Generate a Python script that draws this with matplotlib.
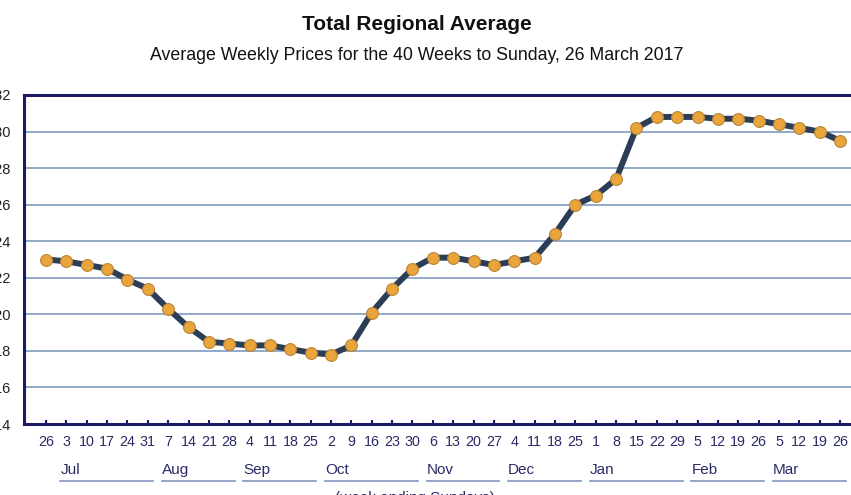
import matplotlib
matplotlib.use("Agg")
import matplotlib.pyplot as plt
from matplotlib.transforms import blended_transform_factory
from matplotlib.lines import Line2D

plt.rcParams['font.family'] = ['Liberation Sans', 'DejaVu Sans']

# week ending Sundays, 26 Jun 2016 to 26 Mar 2017
week_days = [26, 3, 10, 17, 24, 31, 7, 14, 21, 28, 4, 11, 18, 25, 2, 9, 16, 23, 30,
             6, 13, 20, 27, 4, 11, 18, 25, 1, 8, 15, 22, 29, 5, 12, 19, 26, 5, 12, 19, 26]
prices = [123.0, 122.9, 122.7, 122.5, 121.9, 121.4, 120.3, 119.3, 118.5, 118.4,
          118.3, 118.3, 118.1, 117.9, 117.8, 118.3, 120.1, 121.4, 122.5, 123.1,
          123.1, 122.9, 122.7, 122.9, 123.1, 124.4, 126.0, 126.5, 127.4, 130.2,
          130.8, 130.8, 130.8, 130.7, 130.7, 130.6, 130.4, 130.2, 130.0, 129.5]
months = ['Jul', 'Aug', 'Sep', 'Oct', 'Nov', 'Dec', 'Jan', 'Feb', 'Mar']
month_first = [1, 6, 10, 14, 19, 23, 27, 32, 36]
month_last = [5, 9, 13, 18, 22, 26, 31, 35, 39]
y_ticks = [114, 116, 118, 120, 122, 124, 126, 128, 130, 132]

W, H = 851, 495
fig = plt.figure(figsize=(W / 100, H / 100), dpi=100)
ax = fig.add_axes([24 / W, (H - 424) / H, 836 / W, 329 / H])

x = list(range(len(prices)))
ax.plot(x, prices, color='#2b3e55', lw=4.3, zorder=3, solid_joinstyle='round',
        marker='o', markersize=8.5, markerfacecolor='#eaa43c',
        markeredgecolor='#b98535', markeredgewidth=0.8)

ax.set_xlim(-1.08, 39.98)
ax.set_ylim(114, 132)
ax.set_yticks(y_ticks)
ax.set_yticklabels([str(v) for v in y_ticks])
ax.set_xticks(x)
ax.set_xticklabels([str(d) for d in week_days])
ax.grid(axis='y', color='#7391b8', lw=1.1)
ax.set_axisbelow(True)

for s in ax.spines.values():
    s.set_color('#1b1b62')
    s.set_linewidth(2.2)

ax.tick_params(axis='x', direction='in', length=3, width=1.5, color='#1b1b62',
               labelsize=10.3, labelcolor='#2a2a66', pad=8)
ax.tick_params(axis='y', length=0, labelsize=10.5, labelcolor='#222222', pad=9)

# month labels with underlines
tr = blended_transform_factory(ax.transData, fig.transFigure)
for m, a, b in zip(months, month_first, month_last):
    ax.text(a - 0.3, (H - 470) / H, m, transform=tr, ha='left', va='center',
            fontsize=11, color='#2a2a66', clip_on=False)
    fig.add_artist(Line2D([a - 0.3, b + 0.27], [(H - 481) / H] * 2,
                          transform=tr, color='#8095bd', lw=1.2))

fig.text(415 / W, (H - 498) / H, '(week ending Sundays)', ha='center',
         va='center', fontsize=11, color='#2a2a66')

fig.text(417 / W, (H - 24) / H, 'Total Regional Average', ha='center',
         va='center', fontsize=15, fontweight='bold', color='#111111')
fig.text(417 / W, (H - 55) / H,
         'Average Weekly Prices for the 40 Weeks to Sunday, 26 March 2017',
         ha='center', va='center', fontsize=12.8, color='#111111')

fig.savefig('out.png', dpi=100)
